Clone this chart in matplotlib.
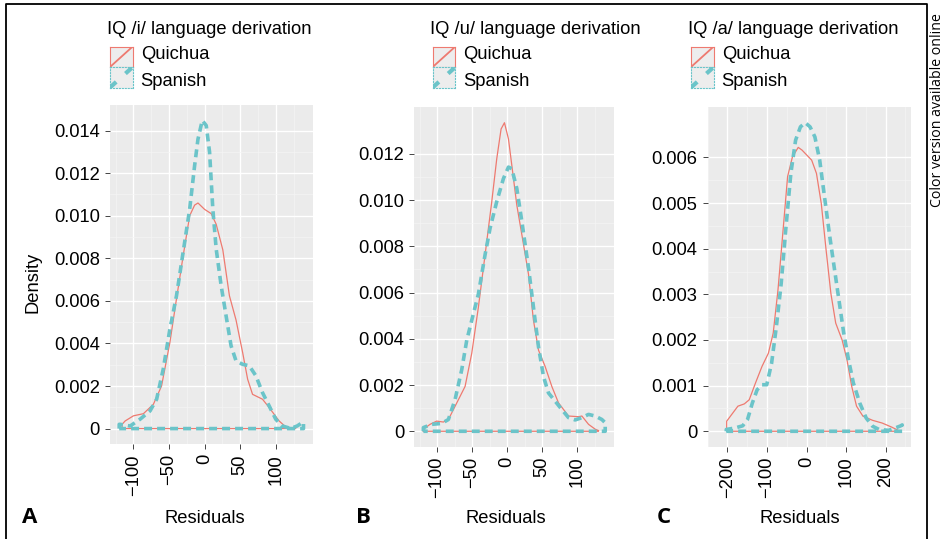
import matplotlib
matplotlib.use("Agg")
import matplotlib.pyplot as plt
import numpy as np

W, H = 945, 539

# ── data ─────────────────────────────────────────────────────────────────────

# A: IQ /i/
a_qui_x = [-116, -111.6, -100, -86, -72, -60.5, -48.8, -39.5, -30.2, -21, -14, -9.3, 0,
           9.3, 16.3, 25.6, 34.9, 44.2, 53.5, 60.5, 67.4, 81.4, 90.7, 104.7, 114, 128]
a_qui_y = [0.0002, 0.00036, 0.0006, 0.0007, 0.00114, 0.002, 0.00404, 0.0061, 0.0081, 0.0100,
           0.0105, 0.0106, 0.0103, 0.0101, 0.0096, 0.0084, 0.00624, 0.0051, 0.00357, 0.00232,
           0.00161, 0.00138, 0.00099, 0.00036, 0.00008, 0.00001]
a_spa_x = [-120, -118.6, -104.7, -90.7, -76.7, -67.4, -58.1, -48.8, -39.5, -30.2, -21, -14,
           -9.3, -3.3, 2.3, 7, 11.6, 16.3, 23.3, 30.2, 37.2, 44.2, 53.5, 62.8, 72.1, 81.4,
           90.7, 100, 109.3, 121, 130, 137.2, 139]
a_spa_y = [0.0002, 0.0002, 0.00012, 0.00044, 0.00083, 0.00138, 0.0028, 0.00467, 0.00624,
           0.00828, 0.0103, 0.01236, 0.0136, 0.01448, 0.01424, 0.01299, 0.0103, 0.00844,
           0.00671, 0.0053, 0.00389, 0.00318, 0.00302, 0.00295, 0.00248, 0.00169, 0.00107,
           0.00044, 0.00012, 0.00001, 0.00012, 0.00028, 0.0003]

# B: IQ /u/
b_qui_x = [-119.5, -110, -100.5, -91, -83.8, -74.3, -60, -50.5, -41, -31.4, -21.9, -14.8,
           -8.6, -3.8, 1.9, 6.7, 13.8, 21, 30.5, 37.6, 44.8, 54.3, 63.8, 73.3, 87.6, 101.9,
           106.7, 116.2, 125.7, 130.5]
b_qui_y = [0.00009, 0.0003, 0.00044, 0.0004, 0.00051, 0.00108, 0.00194, 0.00337, 0.00537,
           0.00765, 0.00994, 0.01179, 0.01308, 0.01335, 0.01265, 0.01151, 0.00979, 0.00851,
           0.0068, 0.0048, 0.00351, 0.0028, 0.00194, 0.00123, 0.00066, 0.00063, 0.00066,
           0.0003, 0.00009, 0.00003]
b_spa_x = [-119.5, -107.6, -93.3, -83.8, -74.3, -64.8, -57.6, -50.5, -41, -31.4, -24.3,
           -14.8, -5.2, 1.9, 6.7, 13.8, 21, 30.5, 37.6, 44.8, 51.9, 59, 68.6, 78.1, 87.6,
           97.1, 106.7, 116.2, 125.7, 135.2, 140]
b_spa_y = [0.00016, 0.0003, 0.00034, 0.00051, 0.00137, 0.00266, 0.00394, 0.0048, 0.00594,
           0.00765, 0.00879, 0.00994, 0.01094, 0.01143, 0.01136, 0.01051, 0.00908, 0.00708,
           0.00537, 0.00365, 0.00237, 0.00166, 0.0013, 0.00094, 0.00059, 0.00049, 0.00059,
           0.00073, 0.00066, 0.00051, 0.00037]

# C: IQ /a/
c_qui_x = [-202, -190, -173.6, -157.3, -145, -129, -112.7, -96.5, -84.3, -72.2, -60, -47.9,
           -35.7, -21, -11.4, 0.8, 13, 25.1, 37.3, 49.5, 61.6, 73.8, 90, 102.2, 114.4, 126.5,
           142.7, 167, 191.4, 215.7, 232]
c_qui_y = [0.00022, 0.00036, 0.00055, 0.0006, 0.00069, 0.00106, 0.00142, 0.00171, 0.00215,
           0.0031, 0.00434, 0.00558, 0.00601, 0.00622, 0.00616, 0.00605, 0.00594, 0.00565,
           0.00499, 0.00397, 0.00302, 0.00237, 0.002, 0.00157, 0.00098, 0.00055, 0.00033,
           0.00024, 0.00018, 0.00009, 0.00002]
c_spa_x = [-203, -181.7, -161.4, -149.2, -137, -124.9, -112.7, -100.6, -88.4, -76.2, -64.1,
           -51.9, -39.7, -27.6, -15.4, -3.2, 8.9, 21.1, 33.3, 45.4, 57.6, 69.7, 81.9, 94.1,
           106.2, 118.4, 134.6, 150.9, 167.1, 183.3, 207.6, 223.8, 238.4, 242]
c_spa_y = [0.00004, 0.00007, 0.00012, 0.00026, 0.00062, 0.00091, 0.00102, 0.00102, 0.00149,
           0.0023, 0.00324, 0.00448, 0.00565, 0.00638, 0.00667, 0.00676, 0.00667, 0.00645,
           0.00594, 0.00514, 0.00434, 0.00361, 0.00288, 0.00215, 0.00157, 0.00106, 0.00062,
           0.00029, 0.00011, 0.00004, 0.00002, 0.00007, 0.00012, 0.00014]

panels = [
    dict(letter="A", vowel="i", qx=a_qui_x, qy=a_qui_y, sx=a_spa_x, sy=a_spa_y,
         xticks=[-100, -50, 0, 50, 100], ystep=0.002, ymax_tick=0.014),
    dict(letter="B", vowel="u", qx=b_qui_x, qy=b_qui_y, sx=b_spa_x, sy=b_spa_y,
         xticks=[-100, -50, 0, 50, 100], ystep=0.002, ymax_tick=0.012),
    dict(letter="C", vowel="a", qx=c_qui_x, qy=c_qui_y, sx=c_spa_x, sy=c_spa_y,
         xticks=[-200, -100, 0, 100, 200], ystep=0.001, ymax_tick=0.006),
]

# ── layout (pixels) ──────────────────────────────────────────────────────────
axes_px = [(110, 105, 312.7, 444), (414.3, 107.3, 614.3, 446.7), (707.7, 107.3, 911, 446.7)]
legend_x = [107.3, 430, 688.3]
xlabel_x = [205, 505.8, 799.7]
letter_x = [29.5, 363.7, 664.3]

RED = "#EE7A70"
TEAL = "#6BC4C9"
PANEL = "#EBEBEB"
FONT = "Liberation Sans"
FS = 13.2

plt.rcParams["font.family"] = FONT


def fx(px):
    return px / W


def fy(px):
    return 1 - px / H


def outline(x, y):
    """geom_density style outline: curve plus the baseline back to start."""
    xs = np.r_[x[0], x, x[-1], x[0]]
    ys = np.r_[0, y, 0, 0]
    return xs, ys


def fmt(v):
    if abs(v) < 1e-12:
        return "0"
    return f"{v:.3f}"


fig = plt.figure(figsize=(W / 100, H / 100), dpi=100)

for p, (x0, y0, x1, y1), lx, rx, ltx in zip(panels, axes_px, legend_x, xlabel_x, letter_x):
    ax = fig.add_axes([fx(x0), fy(y1), fx(x1 - x0), (y1 - y0) / H])
    ax.set_facecolor(PANEL)
    for s in ax.spines.values():
        s.set_visible(False)

    qx, qy = outline(p["qx"], p["qy"])
    sx, sy = outline(p["sx"], p["sy"])
    ax.plot(qx, qy, color=RED, lw=0.9, solid_joinstyle="round", zorder=3)
    ax.plot(sx, sy, color=TEAL, lw=2.6, ls=(0, (2.2, 1.4)), zorder=4)

    # ggplot-like 5% expansion
    xmin = min(min(p["qx"]), min(p["sx"]))
    xmax = max(max(p["qx"]), max(p["sx"]))
    ymax = max(max(p["qy"]), max(p["sy"]))
    ax.set_xlim(xmin - 0.05 * (xmax - xmin), xmax + 0.05 * (xmax - xmin))
    ax.set_ylim(-0.05 * ymax, ymax * 1.05)

    yt = np.arange(0, p["ymax_tick"] + p["ystep"] / 2, p["ystep"])
    ax.set_yticks(yt)
    ax.set_yticklabels([fmt(v) for v in yt])
    ax.set_xticks(p["xticks"])
    ax.set_xticklabels([str(v).replace("-", "\u2212") for v in p["xticks"]], rotation=90)
    xt = p["xticks"]
    half = (xt[1] - xt[0]) / 2
    ax.set_xticks(np.arange(xt[0] - half, xt[-1] + 2 * half, 2 * half), minor=True)
    ax.set_yticks(yt[:-1] + p["ystep"] / 2, minor=True)
    ax.tick_params(which="major", length=3.8, width=0.7, color="#444444", labelsize=FS,
                   labelcolor="black", pad=3.5)
    ax.tick_params(which="minor", length=0)
    ax.grid(which="major", color="white", lw=1.0)
    ax.grid(which="minor", color="#F5F5F5", lw=0.5)
    ax.set_axisbelow(True)

    # legend
    fig.text(fx(lx), fy(34.3), f"IQ /{p['vowel']}/ language derivation",
             fontsize=FS, va="baseline", ha="left")
    kx = lx + 2.7
    for (label, col, lw, ls, bls, ktop, base) in [
        ("Quichua", RED, 1.3, "-", "-", 46.5, 59.3),
        ("Spanish", TEAL, 3.0, (0, (2.0, 3.0)), ":", 67, 86.0),
    ]:
        kax = fig.add_axes([fx(kx), fy(ktop + 20.5), fx(22.7), 20.5 / H])
        kax.set_facecolor("#EDEDED")
        kax.set_xlim(0, 1)
        kax.set_ylim(0, 1)
        kax.set_xticks([])
        kax.set_yticks([])
        for s in kax.spines.values():
            s.set_color(col)
            s.set_linestyle(bls)
            s.set_linewidth(0.8)
        kax.plot([0, 1], [0, 1], color=col, lw=lw, ls=ls, solid_capstyle="butt")
        fig.text(fx(lx + 33.4), fy(base), label, fontsize=FS, va="baseline", ha="left")

    fig.text(fx(rx), fy(523.3), "Residuals", fontsize=FS, ha="center", va="baseline")
    fig.text(fx(ltx), fy(523), p["letter"], fontsize=16, fontweight="bold",
             family="Open Sans", ha="center", va="baseline")

fig.text(fx(33.3), fy(282.5), "Density", fontsize=FS, rotation=90, ha="center", va="center")
fig.text(fx(938), fy(110), "Color version available online", fontsize=10.2,
         family="Open Sans", rotation=90, ha="center", va="center")

# frame around the figure
fig.add_artist(plt.Line2D([fx(5.7), fx(5.7), fx(926.7), fx(926.7)],
                          [0, fy(4.3), fy(4.3), 0], color="black", lw=1.3))

fig.savefig("out.png", dpi=100)
